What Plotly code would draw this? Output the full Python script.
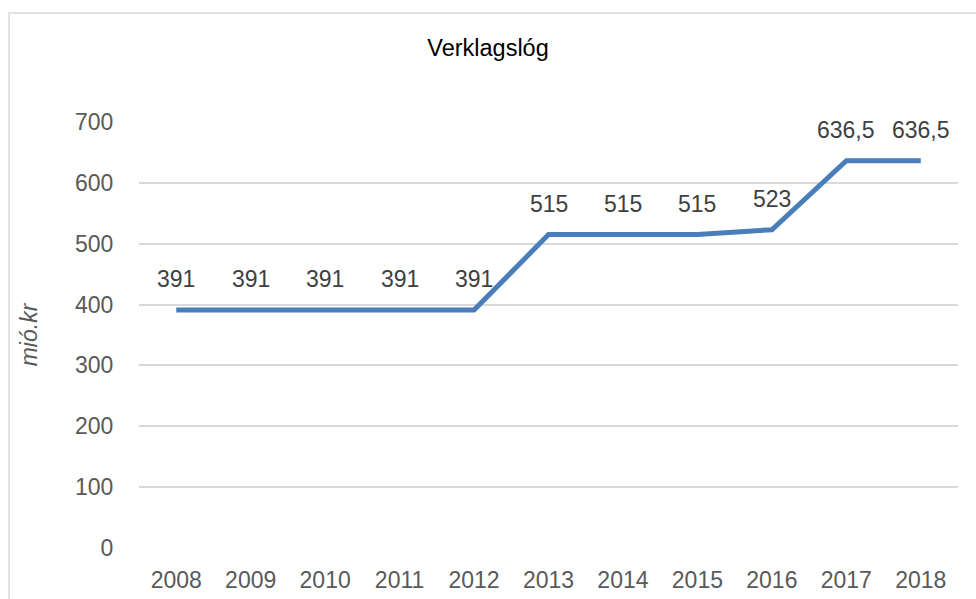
import plotly.graph_objects as go

years = ["2008", "2009", "2010", "2011", "2012", "2013", "2014", "2015", "2016", "2017", "2018"]
values = [391, 391, 391, 391, 391, 515, 515, 515, 523, 636.5, 636.5]
labels = ["391", "391", "391", "391", "391", "515", "515", "515", "523", "636,5", "636,5"]
y_ticks = [0, 100, 200, 300, 400, 500, 600, 700]

FONT = "Liberation Sans, Arial"

fig = go.Figure()
fig.add_trace(go.Scatter(
    x=years, y=values, mode="lines",
    line=dict(color="#4a7ebb", width=5),
    hoverinfo="skip", showlegend=False,
))

for i, (y, t) in enumerate(zip(values, labels)):
    fig.add_annotation(x=i, y=y, xref="x", yref="y", text=t, showarrow=False,
                       yshift=31, yanchor="middle",
                       font=dict(family=FONT, size=23, color="#404040"))

fig.add_shape(type="rect", xref="paper", yref="paper",
              x0=-0.1587, x1=1.2, y0=-0.3, y1=1.2559,
              line=dict(color="#d9d9d9", width=1.5), fillcolor="rgba(0,0,0,0)", layer="below")

fig.update_layout(
    width=976, height=599,
    margin=dict(l=139, r=18, t=122, b=51),
    paper_bgcolor="white", plot_bgcolor="white",
    title=dict(text="Verklagslóg", x=0.5, xref="container", xanchor="center",
               y=1 - 48 / 599, yanchor="middle",
               font=dict(family=FONT, size=23.5, color="#000000")),
    font=dict(family=FONT, size=23, color="#595959"),
    xaxis=dict(type="category", range=[-0.5, 10.5], showgrid=False, showline=False,
               ticks="outside", ticklen=11, tickcolor="rgba(0,0,0,0)", automargin=False,
               tickfont=dict(family=FONT, size=23, color="#595959"), fixedrange=True),
    yaxis=dict(range=[0, 700], tickvals=y_ticks, showgrid=True, gridcolor="#d9d9d9",
               gridwidth=1.5, zeroline=False, showline=False, ticks="outside",
               ticklen=20, tickcolor="rgba(0,0,0,0)", automargin=False,
               tickfont=dict(family=FONT, size=23, color="#595959"),
               title=dict(text="<i>mió.kr</i>", standoff=30,
                          font=dict(family=FONT, size=23, color="#595959"))),
)

fig.write_html("out.html", config={"displayModeBar": False},
               post_script="document.body.style.margin='0';")
